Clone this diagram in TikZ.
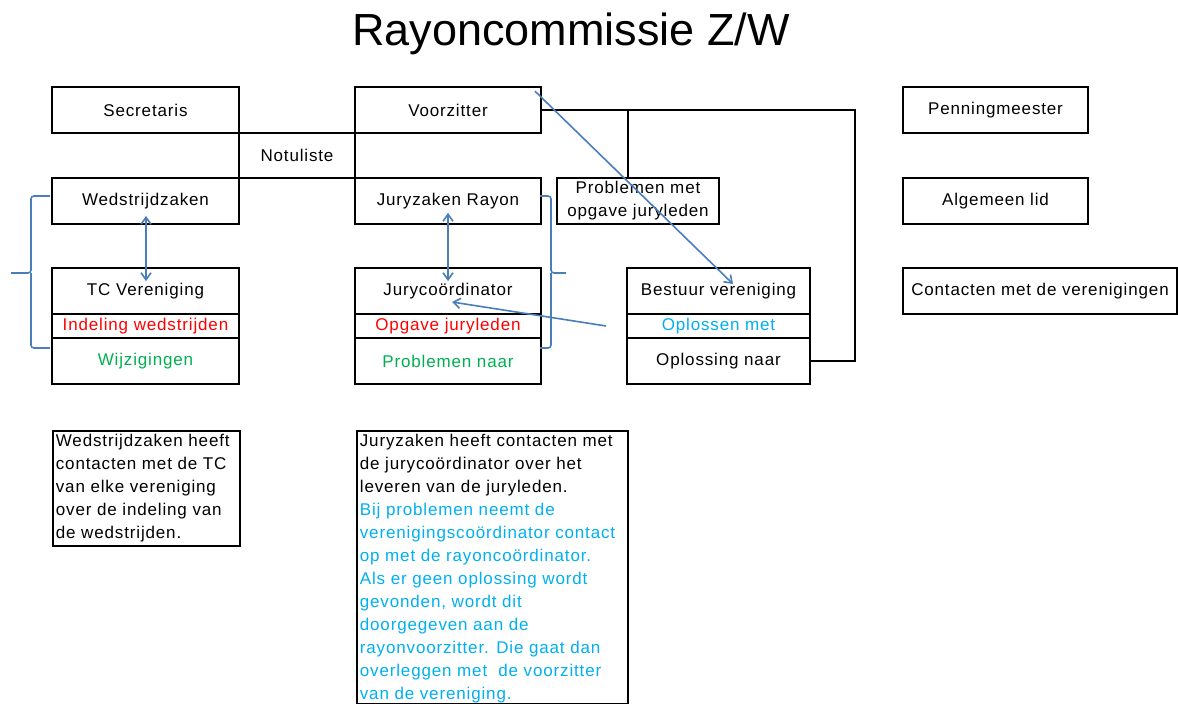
\documentclass[tikz,border=0pt]{standalone}
\usepackage{fontspec}
\setmainfont{Liberation Sans}[LetterSpace=5]
\newfontfamily\titlefont{Liberation Sans}
\usetikzlibrary{arrows.meta}
\definecolor{lnblue}{HTML}{4A7EBB}
\definecolor{txred}{HTML}{FF0000}
\definecolor{txgreen}{HTML}{00B050}
\definecolor{txcyan}{HTML}{00B0F0}
\begin{document}
\begin{tikzpicture}[x=1pt,y=-1pt,
  box/.style={draw=black, line width=1.8pt, inner sep=0pt, align=center,
              font=\fontsize{17}{23}\selectfont},
  wA/.style={minimum width=187pt},
  wB/.style={minimum width=186pt},
  hA/.style={minimum height=46pt},
  hB/.style={minimum height=24pt},
  conn/.style={draw=black, line width=1.8pt},
  bl/.style={draw=lnblue, line width=1.6pt},
  onetip/.style={-{Straight Barb[length=7pt,width=10pt]}},
  bothtip/.style={{Straight Barb[length=7pt,width=10pt]}-{Straight Barb[length=7pt,width=10pt]}}]
\fill[white] (0,0) rectangle (1178,704);
\useasboundingbox (0,0) rectangle (1178,704);

\node[font=\titlefont\fontsize{45}{50}\selectfont, anchor=base] (title) at (571,45) {Rayoncommissie Z/W};

% top row
\node[box, wA, hA] (sec) at (145.5,110) {Secretaris};
\node[box, wB, hA] (voor) at (448,110) {Voorzitter};
\node[box, minimum width=185pt, hA] (pen) at (995.5,110) {Penningmeester};
\node[box, minimum width=116pt, minimum height=45pt] (notul) at (297,155.5) {Notuliste};

% second row
\node[box, wA, hA] (wed) at (145.5,201) {Wedstrijdzaken};
\node[box, wB, hA] (jury) at (448,201) {Juryzaken Rayon};
\node[box, minimum width=162pt, hA] (prob) at (638,201) {Problemen met\\opgave juryleden};
\node[box, minimum width=185pt, hA] (alg) at (995.5,201) {Algemeen lid};

% third row
\node[box, wA, hA] (tc) at (145.5,291) {TC Vereniging};
\node[box, wA, hB, text=txred] (tcind) at (145.5,326) {Indeling wedstrijden};
\node[box, wA, hA, text=txgreen] (tcwij) at (145.5,361) {Wijzigingen};

\node[box, wB, hA] (jc) at (448,291) {Jurycoördinator};
\node[box, wB, hB, text=txred] (jcopg) at (448,326) {Opgave juryleden};
\node[box, wB, hA, text=txgreen] (jcprob) at (448,361) {Problemen naar};

\node[box, minimum width=183pt, hA] (best) at (718.5,291) {Bestuur vereniging};
\node[box, minimum width=183pt, hB, text=txcyan] (bestopl) at (718.5,326) {Oplossen met};
\node[box, minimum width=183pt, hA] (bestnaar) at (718.5,361) {Oplossing naar};

\node[box, minimum width=274pt, hA] (con) at (1040,291) {Contacten met de verenigingen};

% notes
\node[box, anchor=north west, inner sep=3pt, align=left] (note1) at (52,430)
  {\parbox[t][109pt][t]{181pt}{\raggedright
   Wedstrijdzaken heeft\\contacten met de TC\\van elke vereniging\\over de indeling van\\de wedstrijden.}};
\node[box, anchor=north west, inner sep=3pt, align=left] (note2) at (356,430)
  {\parbox[t][267pt][t]{265pt}{\raggedright
   Juryzaken heeft contacten met\\de jurycoördinator over het\\leveren van de juryleden.\\
   \color{txcyan}Bij problemen neemt de\\verenigingscoördinator contact\\op met de rayoncoördinator.\\
   Als er geen oplossing wordt\\gevonden, wordt dit\\doorgegeven aan de\\rayonvoorzitter. Die gaat dan\\
   overleggen met\ \ de voorzitter\\van de vereniging.}};

% black connectors
\coordinate (rt) at (855,110);
\draw[conn] (voor.east) -- (rt) |- (bestnaar.east);
\coordinate (pb) at ([xshift=-10pt]prob.north);
\draw[conn] (pb) -- (pb |- voor.east);

% blue arrows
\draw[bl, bothtip] ([shift={(0.5pt,9pt)}]wed.south) -- ([shift={(0.5pt,-14pt)}]tc.north);
\draw[bl, bothtip] ([yshift=12pt]jury.south) -- ([yshift=-14pt]jc.north);
\draw[bl, onetip] ([xshift=-20pt]bestopl.west) -- ([shift={(4pt,-11pt)}]jc.center);
\draw[bl, onetip] ([shift={(-7pt,-5pt)}]voor.north east) -- ([shift={(14.5pt,7pt)}]best.center);

% braces
\draw[bl, rounded corners=3pt] (50,196) -| (31,273) -- (11,273);
\draw[bl, rounded corners=3pt] (31,273) |- (50,348);
\draw[bl, rounded corners=3pt] (540,196) -| (551,273) -- (566,273);
\draw[bl, rounded corners=3pt] (551,273) |- (540,348);
\end{tikzpicture}
\end{document}
